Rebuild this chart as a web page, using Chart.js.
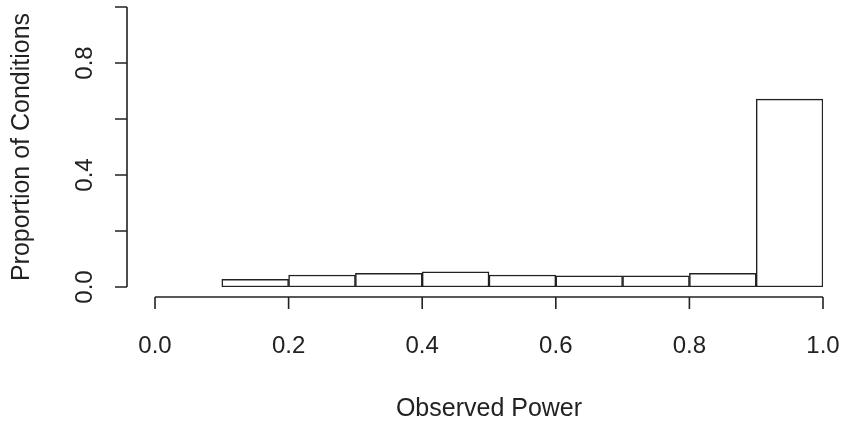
<!DOCTYPE html>
<html>
<head>
<meta charset="utf-8">
<script src="https://cdn.jsdelivr.net/npm/chart.js@4.4.0/dist/chart.umd.min.js"></script>
<style>
  html, body { margin: 0; padding: 0; background: #fff; }
</style>
</head>
<body>
<canvas id="hist" width="851" height="427"></canvas>
<script>
// histogram bins (mid points) and proportion of conditions
var binMids = [0.15, 0.25, 0.35, 0.45, 0.55, 0.65, 0.75, 0.85, 0.95];
var proportions = [0.027, 0.043, 0.049, 0.054, 0.043, 0.040, 0.040, 0.049, 0.671];
var xTicks = [0, 0.2, 0.4, 0.6, 0.8, 1.0];
var yTicks = [0, 0.2, 0.4, 0.6, 0.8, 1.0];
var yLabelled = [0, 0.4, 0.8];

var ink = "#222";
var fontName = "'Liberation Sans', Arial, sans-serif";

// R style axes: detached lines with outward ticks
var rAxes = {
	id: "rAxes",
	afterDraw: function(chart) {
		var ctx = chart.ctx;
		var xs = chart.scales.x, ys = chart.scales.y;
		var yb = ys.getPixelForValue(0) + 10;
		var xl = xs.getPixelForValue(0) - 28;
		ctx.save();
		ctx.strokeStyle = ink;
		ctx.lineWidth = 1.6;
		ctx.beginPath();
		ctx.moveTo(xs.getPixelForValue(xTicks[0]), yb);
		ctx.lineTo(xs.getPixelForValue(xTicks[xTicks.length - 1]), yb);
		for (var i = 0; i < xTicks.length; i++) {
			var px = xs.getPixelForValue(xTicks[i]);
			ctx.moveTo(px, yb);
			ctx.lineTo(px, yb + 12);
		}
		ctx.moveTo(xl, ys.getPixelForValue(yTicks[0]));
		ctx.lineTo(xl, ys.getPixelForValue(yTicks[yTicks.length - 1]));
		for (var j = 0; j < yTicks.length; j++) {
			var py = ys.getPixelForValue(yTicks[j]);
			ctx.moveTo(xl, py);
			ctx.lineTo(xl - 12, py);
		}
		ctx.stroke();
		ctx.restore();
	}
};

var data = [];
for (var i = 0; i < binMids.length; i++) data.push({x: binMids[i], y: proportions[i]});

new Chart(document.getElementById("hist"), {
	type: "bar",
	data: {
		datasets: [{
			data: data,
			backgroundColor: "#fff",
			borderColor: ink,
			borderWidth: 1.5,
			borderSkipped: false,
			barPercentage: 1,
			categoryPercentage: 1
		}]
	},
	options: {
		responsive: false,
		animation: false,
		layout: { padding: { top: 7, right: 28, left: 0, bottom: 0 } },
		plugins: { legend: { display: false }, tooltip: { enabled: false } },
		scales: {
			x: {
				type: "linear",
				min: 0, max: 1,
				offset: false,
				grid: { display: false },
				border: { display: false },
				afterBuildTicks: function(s) { s.ticks = xTicks.map(function(v) { return {value: v}; }); },
				afterFit: function(s) { s.height = 140; s.paddingLeft = 0; s.paddingRight = 0; },
				ticks: {
					color: ink,
					padding: 37,
					maxRotation: 0,
					font: { family: fontName, size: 24 },
					callback: function(v) { return Number(v).toFixed(1); }
				},
				title: {
					display: true,
					text: "Observed Power",
					color: ink,
					font: { family: fontName, size: 25 },
					padding: { top: 0, bottom: 3 }
				}
			},
			y: {
				min: 0, max: 1,
				grid: { display: false },
				border: { display: false },
				afterBuildTicks: function(s) { s.ticks = yTicks.map(function(v) { return {value: v}; }); },
				afterFit: function(s) { s.width = 155; s.paddingTop = 0; s.paddingBottom = 0; },
				ticks: {
					color: ink,
					padding: 45,
					minRotation: 90,
					maxRotation: 90,
					crossAlign: "center",
					font: { family: fontName, size: 24 },
					callback: function(v) {
						return yLabelled.indexOf(Math.round(v * 10) / 10) >= 0 ? Number(v).toFixed(1) : "";
					}
				},
				title: {
					display: true,
					text: "Proportion of Conditions",
					color: ink,
					font: { family: fontName, size: 25 },
					padding: { top: 7, bottom: 0 }
				}
			}
		}
	},
	plugins: [rAxes]
});
</script>
</body>
</html>
